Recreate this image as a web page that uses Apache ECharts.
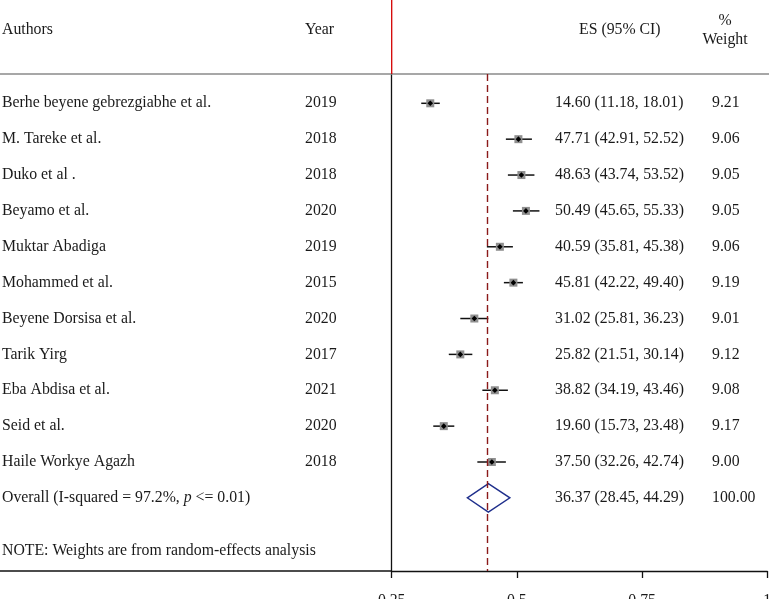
<!DOCTYPE html>
<html><head><meta charset="utf-8">
<script src="https://cdn.jsdelivr.net/npm/echarts@6/dist/echarts.min.js"></script>
<style>html,body{margin:0;padding:0;background:#fff}#c{width:769px;height:599px}</style>
</head><body><div id="c"></div>
<script>
// ---- data ----
const authors = ["Berhe beyene gebrezgiabhe et al.", "M. Tareke et al.", "Duko et al .", "Beyamo et al.", "Muktar Abadiga", "Mohammed et al.", "Beyene Dorsisa et al.", "Tarik Yirg", "Eba Abdisa et al.", "Seid et al.", "Haile Workye Agazh"];
const years = ["2019", "2018", "2018", "2020", "2019", "2015", "2020", "2017", "2021", "2020", "2018"];
const esValues = [14.60, 47.71, 48.63, 50.49, 40.59, 45.81, 31.02, 25.82, 38.82, 19.60, 37.50];
const esLow = [11.18, 42.91, 43.74, 45.65, 35.81, 42.22, 25.81, 21.51, 34.19, 15.73, 32.26];
const esHigh = [18.01, 52.52, 53.52, 55.33, 45.38, 49.40, 36.23, 30.14, 43.46, 23.48, 42.74];
const weights = [9.21, 9.06, 9.05, 9.05, 9.06, 9.19, 9.01, 9.12, 9.08, 9.17, 9.00];
// positions as drawn on the plot axis
const plotEst = [0.327, 0.503, 0.509, 0.518, 0.466, 0.493, 0.415, 0.387, 0.456, 0.354, 0.450];
const plotLow = [0.309, 0.478, 0.482, 0.492, 0.440, 0.474, 0.387, 0.364, 0.431, 0.333, 0.421];
const plotHigh = [0.346, 0.530, 0.535, 0.545, 0.492, 0.512, 0.443, 0.411, 0.482, 0.375, 0.478];
const overallES = [36.37, 28.45, 44.29];
const overallWeight = 100.00;
const overallPlot = [0.401, 0.443, 0.486]; // low, est, high
const overallLabel = "Overall (I-squared = 97.2%, ";
const overallLabelP = "p";
const overallLabelEnd = " <= 0.01)";
const noteText = "NOTE: Weights are from random-effects analysis";
const headers = ["Authors", "Year", "ES (95% CI)", "%", "Weight"];
const xTicks = [0.25, 0.5, 0.75, 1];

// ---- layout ----
const FONT = '"Liberation Serif", "DejaVu Serif", serif';
const FS = 15.8;
const TXT = '#1a1a1a';
const rowPx = 35.87, row1Px = 103.3;
const idxAt = p => 1 + (p - row1Px) / rowPx;
const colX = { author: 2, year: 305, es: 555, weight: 712 };

const fmt = v => v.toFixed(2);
const cells = [];
authors.forEach((a, i) => {
  cells.push({ x: colX.author, row: i + 1, text: a });
  cells.push({ x: colX.year, row: i + 1, text: years[i] });
  cells.push({ x: colX.es, row: i + 1, text: fmt(esValues[i]) + ' (' + fmt(esLow[i]) + ', ' + fmt(esHigh[i]) + ')' });
  cells.push({ x: colX.weight, row: i + 1, text: fmt(weights[i]) });
});
const nRows = authors.length;
cells.push({ x: colX.author, row: nRows + 1, rich: true });
cells.push({ x: colX.es, row: nRows + 1, text: fmt(overallES[0]) + ' (' + fmt(overallES[1]) + ', ' + fmt(overallES[2]) + ')' });
cells.push({ x: colX.weight, row: nRows + 1, text: fmt(overallWeight) });
cells.push({ x: colX.author, row: idxAt(551), text: noteText });
cells.push({ x: colX.author, row: idxAt(30), text: headers[0] });
cells.push({ x: colX.year, row: idxAt(30), text: headers[1] });
cells.push({ x: 579, row: idxAt(30), text: headers[2] });
cells.push({ x: 725, row: idxAt(21), text: headers[3], align: 'center' });
cells.push({ x: 725, row: idxAt(40), text: headers[4], align: 'center' });

const chart = echarts.init(document.getElementById('c'), null, { renderer: 'canvas' });
const gridTop = 74, gridBottomPx = 571;
const option = {
  animation: false,
  backgroundColor: '#fff',
  grid: [
    { left: 391.7, right: 1.7, top: gridTop, bottom: 599 - gridBottomPx, containLabel: false, outerBoundsMode: 'none' },
    { left: 0, right: 0, top: 0, bottom: 0, containLabel: false, outerBoundsMode: 'none' }
  ],
  xAxis: [
    {
      gridIndex: 0, type: 'value', min: xTicks[0], max: xTicks[xTicks.length - 1], interval: 0.25,
      axisLine: { show: true, onZero: false, lineStyle: { color: '#111', width: 1.3 } },
      axisTick: { show: true, length: 7, lineStyle: { color: '#111', width: 1.3 } },
      axisLabel: { show: true, margin: 22, fontFamily: FONT, fontSize: FS, color: TXT, showMaxLabel: true, showMinLabel: true },
      splitLine: { show: false }
    },
    { gridIndex: 1, type: 'value', min: 0, max: 769, show: false }
  ],
  yAxis: [
    {
      gridIndex: 0, type: 'value', inverse: true, min: idxAt(gridTop), max: idxAt(gridBottomPx),
      axisLine: { show: true, onZero: false, lineStyle: { color: '#111', width: 1.3 } },
      axisTick: { show: false }, axisLabel: { show: false }, splitLine: { show: false }
    },
    { gridIndex: 1, type: 'value', inverse: true, min: idxAt(0), max: idxAt(599), show: false }
  ],
  graphic: [
    { type: 'line', shape: { x1: 0, y1: gridTop, x2: 769, y2: gridTop }, style: { stroke: '#8a8a8a', lineWidth: 1.5 }, z: 1 },
    { type: 'line', shape: { x1: 0, y1: gridBottomPx, x2: 392, y2: gridBottomPx }, style: { stroke: '#111', lineWidth: 1.3 }, z: 1 },
    { type: 'line', shape: { x1: 391.7, y1: 0, x2: 391.7, y2: gridTop }, style: { stroke: '#d40000', lineWidth: 1.3 }, z: 1 }
  ],
  series: [
    {
      type: 'custom', xAxisIndex: 0, yAxisIndex: 0, clip: false,
      data: plotEst.map((v, i) => [v, plotLow[i], plotHigh[i], i + 1]),
      encode: { x: [0, 1, 2], y: 3 },
      renderItem: (params, api) => {
        const r = api.value(3);
        const c = api.coord([api.value(0), r]);
        const lo = api.coord([api.value(1), r]);
        const hi = api.coord([api.value(2), r]);
        const s = 4, d = 2.8;
        return {
          type: 'group', children: [
            { type: 'line', shape: { x1: lo[0], y1: c[1], x2: hi[0], y2: c[1] }, style: { stroke: '#111', lineWidth: 1.5 } },
            { type: 'rect', shape: { x: c[0] - s, y: c[1] - s, width: 2 * s, height: 2 * s }, style: { fill: '#8f8f8f' } },
            { type: 'polygon', shape: { points: [[c[0] - d, c[1]], [c[0], c[1] - d], [c[0] + d, c[1]], [c[0], c[1] + d]] }, style: { fill: '#000' } }
          ]
        };
      }
    },
    {
      type: 'custom', xAxisIndex: 0, yAxisIndex: 0, clip: false,
      data: [[overallPlot[1], overallPlot[0], overallPlot[2], nRows + 1]],
      encode: { x: [0, 1, 2], y: 3 },
      renderItem: (params, api) => {
        const r = api.value(3);
        const c = api.coord([api.value(0), r]);
        const lo = api.coord([api.value(1), r]);
        const hi = api.coord([api.value(2), r]);
        const h = 14.3;
        return {
          type: 'polygon', z2: 5,
          shape: { points: [[lo[0], c[1]], [c[0], c[1] - h], [hi[0], c[1]], [c[0], c[1] + h]] },
          style: { fill: 'none', stroke: '#1f2f8c', lineWidth: 1.4 }
        };
      },
      markLine: {
        silent: true, symbol: 'none', label: { show: false },
        lineStyle: { color: '#8b1a1a', type: [7, 4], width: 1.4 },
        data: [{ xAxis: overallPlot[1] }]
      }
    },
    {
      type: 'custom', xAxisIndex: 1, yAxisIndex: 1, clip: false,
      data: cells.map(c => [c.x, c.row]),
      renderItem: (params, api) => {
        const cell = cells[params.dataIndex];
        const p = api.coord([api.value(0), api.value(1)]);
        const style = { fill: TXT, fontFamily: FONT, fontSize: FS, align: cell.align || 'left', verticalAlign: 'middle' };
        if (cell.rich) {
          style.text = '{n|' + overallLabel + '}{i|' + overallLabelP + '}{n|' + overallLabelEnd + '}';
          style.rich = {
            n: { fontFamily: FONT, fontSize: FS, fill: TXT },
            i: { fontFamily: FONT, fontSize: FS, fill: TXT, fontStyle: 'italic' }
          };
        } else {
          style.text = cell.text;
        }
        return { type: 'text', x: p[0], y: p[1], style: style };
      }
    }
  ]
};
chart.setOption(option);
</script>
</body></html>
